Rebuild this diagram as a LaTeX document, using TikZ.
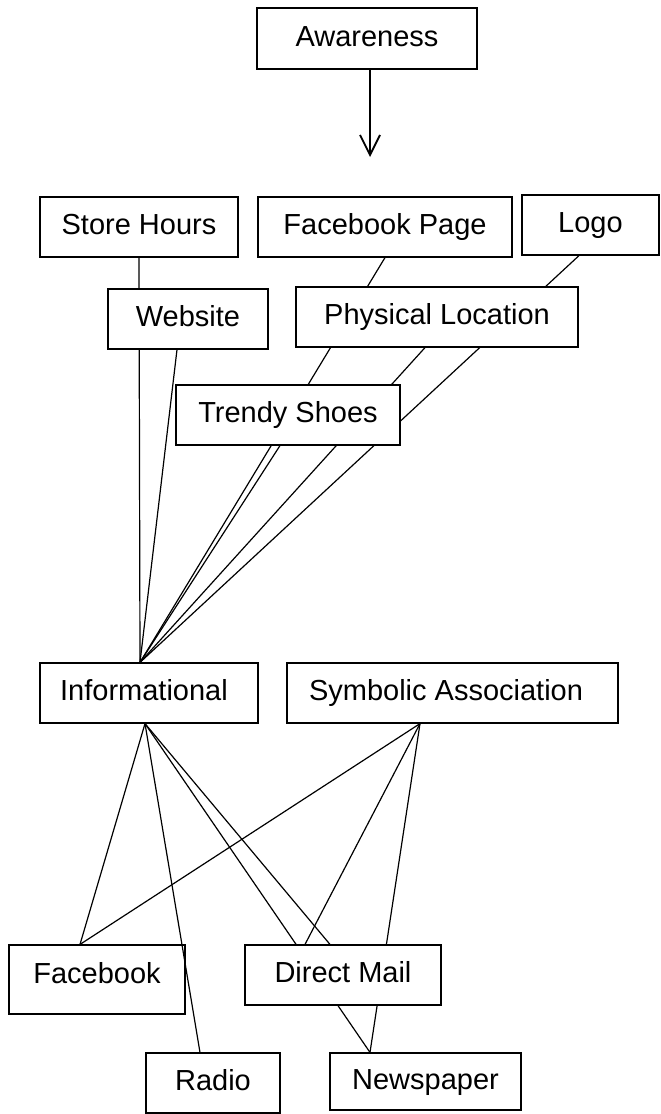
\documentclass[tikz,border=0pt]{standalone}
\usepackage{fontspec}
\setmainfont{Liberation Sans}
\usetikzlibrary{arrows.meta,backgrounds}

\begin{document}
\begin{tikzpicture}[x=0.5pt,y=-0.5pt,>={Straight Barb[length=10pt,width=10pt]},
  font=\fontsize{14.5}{17}\selectfont,line cap=round,
  box/.style={draw,fill=white,inner sep=0pt,line width=0.6pt,minimum height=30pt,
    text height=10.5pt,text depth=3pt},
  link/.style={line width=0.6pt}]
\useasboundingbox (0,0) rectangle (660,1114);
% top
\node[box,minimum width=110pt,minimum height=30.5pt] (awareness) at (367,38.5) {Awareness};
\coordinate (arrowtip) at (370,157);
\draw[->,line width=0.9pt] (awareness.south -| arrowtip) -- (arrowtip);
% channels
\node[box,minimum width=99pt] (storehours) at (139,227) {Store Hours};
\node[box,minimum width=127pt] (fbpage) at (385,227) {Facebook Page};
\node[box,minimum width=68.5pt] (logo) at (590.5,225) {Logo};
\node[box,minimum width=80pt] (website) at (188,319) {Website};
\node[box,minimum width=141pt] (physloc) at (437,317) {Physical Location};
\node[box,minimum width=112pt] (trendy) at (288,415) {Trendy Shoes};
% kinds
\node[box,minimum width=109pt] (informational) at (149,693) {Informational\kern5pt};
\node[box,minimum width=165.5pt] (symbolic) at (452.5,693) {Symbolic Association\kern6.5pt};
% media
\node[box,minimum width=88pt,minimum height=34.5pt,text depth=6.6pt] (facebook) at (97,979.5) {Facebook};
\node[box,minimum width=98pt] (directmail) at (343,975) {Direct Mail};
\node[box,minimum width=67pt] (radio) at (213,1083) {Radio};
\node[box,minimum width=95.5pt,minimum height=28.5pt] (newspaper) at (425.5,1081.5) {Newspaper};

\begin{scope}[on background layer]
\draw[link] (storehours.south) -- ([xshift=-4.5pt]informational.north);
\draw[link] ([xshift=-5.5pt]website.south) -- ([xshift=-4.5pt]informational.north);
\draw[link] (fbpage.south) -- ([xshift=-4.5pt]informational.north);
\draw[link] ([xshift=-5.75pt]logo.south) -- ([xshift=-4.5pt]informational.north);
\draw[link] ([xshift=-6pt]physloc.south) -- ([xshift=-4.5pt]informational.north);
\draw[link] ([xshift=-4pt]trendy.south) -- ([xshift=-4.5pt]informational.north);
\draw[link] ([xshift=-2pt]informational.south) -- ([xshift=-8.5pt]facebook.north);
\draw[link] ([xshift=-2pt]informational.south) -- ([xshift=-6.5pt]directmail.north);
\draw[link] ([xshift=-2pt]informational.south) -- ([xshift=-27.75pt]newspaper.north);
\draw[link] ([xshift=-16.25pt]symbolic.south) -- ([xshift=-8.5pt]facebook.north);
\draw[link] ([xshift=-16.25pt]symbolic.south) -- ([xshift=-19pt]directmail.north);
\draw[link] ([xshift=-16.25pt]symbolic.south) -- ([xshift=-27.75pt]newspaper.north);
\end{scope}
\draw[link] ([xshift=-2pt]informational.south) -- ([xshift=-6.5pt]radio.north);
\end{tikzpicture}
\end{document}
